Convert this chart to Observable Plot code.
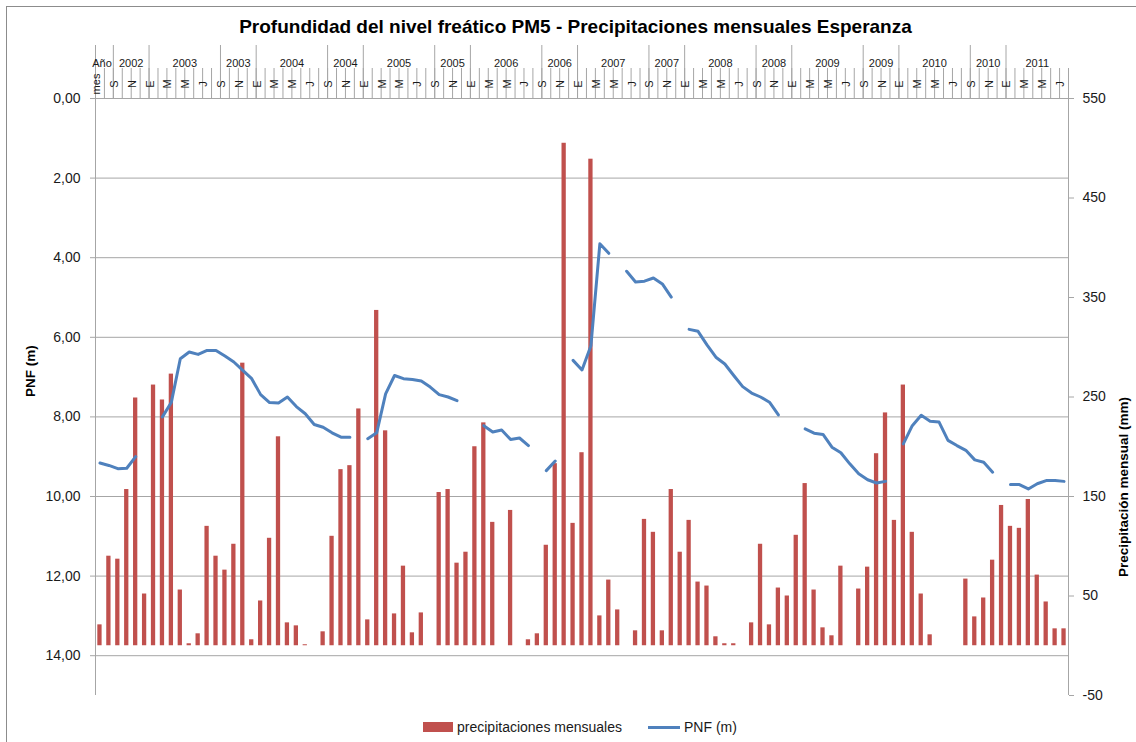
<!DOCTYPE html>
<html lang="es">
<head>
<meta charset="utf-8">
<script src="https://cdn.jsdelivr.net/npm/d3@7"></script>
<script src="https://cdn.jsdelivr.net/npm/@observablehq/plot@0.6"></script>
<style>
html,body{margin:0;padding:0;background:#fff;}
#wrap{position:relative;width:1136px;height:742px;overflow:hidden;font-family:"Liberation Sans",Arial,sans-serif;color:#000;background:#fff;}
#borde{position:absolute;left:6px;top:6px;width:1200px;height:800px;border:1px solid #8c8c8c;}
#titulo{position:absolute;left:0;top:15px;width:1151px;text-align:center;font-weight:bold;font-size:19px;line-height:24px;color:#000;}
.capa{position:absolute;left:0;}
.ley{position:absolute;}
.leytxt{position:absolute;top:717px;font-size:14px;line-height:20px;color:#1a1a1a;white-space:nowrap;}
</style>
</head>
<body>
<div id="wrap">
  <div id="borde"></div>
  <div id="titulo">Profundidad del nivel freático PM5 - Precipitaciones mensuales Esperanza</div>
  <div class="ley" style="left:423px;top:722px;width:30px;height:10px;background:#C0504D;"></div>
  <div class="leytxt" style="left:457px;">precipitaciones mensuales</div>
  <div class="ley" style="left:648px;top:725.5px;width:32px;height:3px;background:#4F81BD;"></div>
  <div class="leytxt" style="left:684px;">PNF (m)</div>
</div>
<script>
// ---- categorías (meses) ----
const meses = [
  "2002-07","2002-08","2002-09","2002-10","2002-11","2002-12",
  "2003-01","2003-02","2003-03","2003-04","2003-05","2003-06","2003-07","2003-08","2003-09","2003-10","2003-11","2003-12",
  "2004-01","2004-02","2004-03","2004-04","2004-05","2004-06","2004-07","2004-08","2004-09","2004-10","2004-11","2004-12",
  "2005-01","2005-02","2005-03","2005-04","2005-05","2005-06","2005-07","2005-08","2005-09","2005-10","2005-11","2005-12",
  "2006-01","2006-02","2006-03","2006-04","2006-05","2006-06","2006-07","2006-08","2006-09","2006-10","2006-11","2006-12",
  "2007-01","2007-02","2007-03","2007-04","2007-05","2007-06","2007-07","2007-08","2007-09","2007-10","2007-11","2007-12",
  "2008-01","2008-02","2008-03","2008-04","2008-05","2008-06","2008-07","2008-08","2008-09","2008-10","2008-11","2008-12",
  "2009-01","2009-02","2009-03","2009-04","2009-05","2009-06","2009-07","2009-08","2009-09","2009-10","2009-11","2009-12",
  "2010-01","2010-02","2010-03","2010-04","2010-05","2010-06","2010-07","2010-08","2010-09","2010-10","2010-11","2010-12",
  "2011-01","2011-02","2011-03","2011-04","2011-05","2011-06","2011-07"
];

// ---- precipitaciones mensuales (mm) ----
const precipitacion = [
  21, 90, 87, 157, 249, 52,
  262, 247, 273, 56, 2, 12, 120, 90, 76, 102, 284, 6,
  45, 108, 210, 23, 20, 1, null, 14, 110, 177, 181, 238,
  26, 337, 216, 32, 80, 13, 33, null, 154, 157, 83, 94,
  200, 224, 124, null, 136, null, 6, 12, 101, 183, 505, 123,
  194, 489, 30, 66, 36, null, 15, 127, 114, 15, 157, 94,
  126, 64, 60, 9, 2, 2, null, 23, 102, 21, 58, 50,
  111, 163, 56, 18, 10, 80, null, 57, 79, 193, 234, 126,
  262, 114, 52, 11, null, null, null, 67, 29, 48, 86, 141,
  120, 118, 147, 71, 44, 17, 17
];

// ---- profundidad del nivel freático PNF (m) ----
const pnf = [
  9.16, 9.22, 9.30, 9.29, 9.00, null,
  null, 8.00, 7.63, 6.54, 6.37, 6.43, 6.33, 6.33, 6.47, 6.62, 6.83, 7.04,
  7.44, 7.64, 7.65, 7.50, 7.74, 7.92, 8.19, 8.26, 8.40, 8.51, 8.51, null,
  8.55, 8.40, 7.42, 6.96, 7.04, 7.06, 7.10, 7.25, 7.44, 7.50, 7.59, null,
  null, 8.22, 8.38, 8.33, 8.57, 8.53, 8.72, null, 9.35, 9.11, null, 6.58,
  6.82, 6.21, 3.65, 3.89, null, 4.34, 4.61, 4.59, 4.51, 4.66, 4.99, null,
  5.80, 5.85, 6.19, 6.50, 6.67, 6.96, 7.24, 7.40, 7.50, 7.63, 7.95, null,
  null, 8.30, 8.41, 8.44, 8.76, 8.90, 9.18, 9.43, 9.58, 9.66, 9.62, null,
  8.68, 8.22, 7.96, 8.11, 8.13, 8.59, 8.72, 8.84, 9.08, 9.14, 9.39, null,
  9.70, 9.70, 9.81, 9.68, 9.60, 9.60, 9.62
];

// ---- etiquetas del eje de categorías (una cada dos meses, desde el primero) ----
const etiquetasMes = [
  "mes","S","N",
  "E","M","M","J","S","N",
  "E","M","M","J","S","N",
  "E","M","M","J","S","N",
  "E","M","M","J","S","N",
  "E","M","M","J","S","N",
  "E","M","M","J","S","N",
  "E","M","M","J","S","N",
  "E","M","M","J","S","N",
  "E","M","M","J"
];
const encabezadoAnio = "Año";
const anios = ["2002","2003","2003","2004","2004","2005","2005","2006","2006","2007","2007","2008","2008","2009","2009","2010","2010","2011"];
const aniosInicio = ["2002-09","2003-01","2003-09","2004-01","2004-09","2005-01","2005-09","2006-01","2006-09","2007-01","2007-09","2008-01","2008-09","2009-01","2009-09","2010-01","2010-09","2011-01"];

// ---- ticks de los ejes ----
const ticksPNF = [0, 2, 4, 6, 8, 10, 12, 14];
const ticksPrecip = [550, 450, 350, 250, 150, 50, -50];

// ---------------------------------------------------------------
const FONT = '"Liberation Sans", Arial, sans-serif';
const GRIS = "#a6a6a6";
const TEXTO = "#1a1a1a";
const W = 1136, H = 670, TOP = 40;
const mL = 95, mR = 68, mT = 58, mB = 15;
const n = meses.length;

const filas = meses.map((mes, i) => ({i, mes, precip: precipitacion[i], pnf: pnf[i]}));
const estilo = {background: "transparent", fontFamily: FONT, fontSize: "14px", color: "#000", overflow: "visible"};
const xLineal = {type: "linear", domain: [-0.5, n - 0.5], axis: null};

const wrap = document.getElementById("wrap");
function agregar(svg, top) {
  svg.classList.add("capa");
  svg.style.top = top + "px";
  wrap.appendChild(svg);
}

// capa 1: grilla, eje izquierdo
agregar(Plot.plot({
  width: W, height: H, marginLeft: mL, marginRight: mR, marginTop: mT, marginBottom: mB,
  style: estilo,
  x: xLineal,
  y: {domain: [0, 15], reverse: true},
  marks: [
    Plot.gridY(ticksPNF.filter(t => t > 0), {stroke: GRIS, strokeOpacity: 1}),
    Plot.ruleY([0], {stroke: GRIS}),
    Plot.ruleX([-0.5, n - 0.5], {stroke: GRIS}),
    Plot.axisY(ticksPNF, {anchor: "left", tickSize: 5, tickPadding: 10, stroke: GRIS, fill: TEXTO,
      tickFormat: d => d.toFixed(2).replace(".", ","), label: null}),
    Plot.text(["PNF (m)"], {frameAnchor: "left", dx: -65, rotate: -90, fontWeight: "bold", fontSize: 13.5, fill: "#000"})
  ]
}), TOP);

// capa 2: barras de precipitación, eje derecho
agregar(Plot.plot({
  width: W, height: H, marginLeft: mL, marginRight: mR, marginTop: mT, marginBottom: mB,
  style: estilo,
  x: {type: "band", domain: meses, paddingInner: 0.52, paddingOuter: 0.26, axis: null},
  y: {domain: [-50, 550]},
  marks: [
    Plot.barY(filas.filter(d => d.precip != null), {x: "mes", y: "precip", fill: "#C0504D"}),
    Plot.axisY(ticksPrecip, {anchor: "right", tickSize: 5, tickPadding: 9, stroke: GRIS, fill: TEXTO,
      tickFormat: d => String(d), label: null}),
    Plot.text(["Precipitación mensual (mm)"], {frameAnchor: "right", dx: 55, rotate: -90, fontWeight: "bold", fontSize: 13.5, fill: "#000"})
  ]
}), TOP);

// capa 3: línea PNF
agregar(Plot.plot({
  width: W, height: H, marginLeft: mL, marginRight: mR, marginTop: mT, marginBottom: mB,
  style: estilo,
  x: xLineal,
  y: {domain: [0, 15], reverse: true, axis: null},
  marks: [
    Plot.lineY(filas, {x: "i", y: "pnf", stroke: "#4F81BD", strokeWidth: 3, strokeLinejoin: "round", strokeLinecap: "round"})
  ]
}), TOP);

// capa 4: encabezado del eje de categorías (años y meses)
const etiquetas = etiquetasMes.map((t, k) => ({i: meses.indexOf(meses[2 * k]), t}));
const limitesMes = meses.map((m, i) => i - 0.5).concat([n - 0.5]);
const inicios = aniosInicio.map(m => meses.indexOf(m));
const limitesAnio = [-0.5].concat(inicios.map(i => i - 0.5));
const grupos = anios.map((a, k) => {
  const desde = inicios[k];
  const hasta = k + 1 < inicios.length ? inicios[k + 1] - 1 : n - 1;
  return {a, centro: (desde + hasta) / 2};
});
agregar(Plot.plot({
  width: W, height: 55, marginLeft: mL, marginRight: mR, marginTop: 0, marginBottom: 0,
  style: estilo,
  x: xLineal,
  marks: [
    Plot.ruleX(limitesMes, {stroke: GRIS, insetTop: 25}),
    Plot.ruleX(limitesAnio, {stroke: GRIS, insetTop: 2}),
    Plot.text(etiquetas, {x: "i", text: "t", frameAnchor: "bottom", dy: -14.5, rotate: -90, fontSize: 11, fill: TEXTO}),
    Plot.text(grupos, {x: "centro", text: "a", frameAnchor: "top", dy: 16, fontSize: 11, fill: TEXTO}),
    Plot.text([{i: 0, t: encabezadoAnio}], {x: "i", text: "t", frameAnchor: "top", dy: 16, dx: 2, fontSize: 11, fill: TEXTO})
  ]
}), 43);
</script>
</body>
</html>
